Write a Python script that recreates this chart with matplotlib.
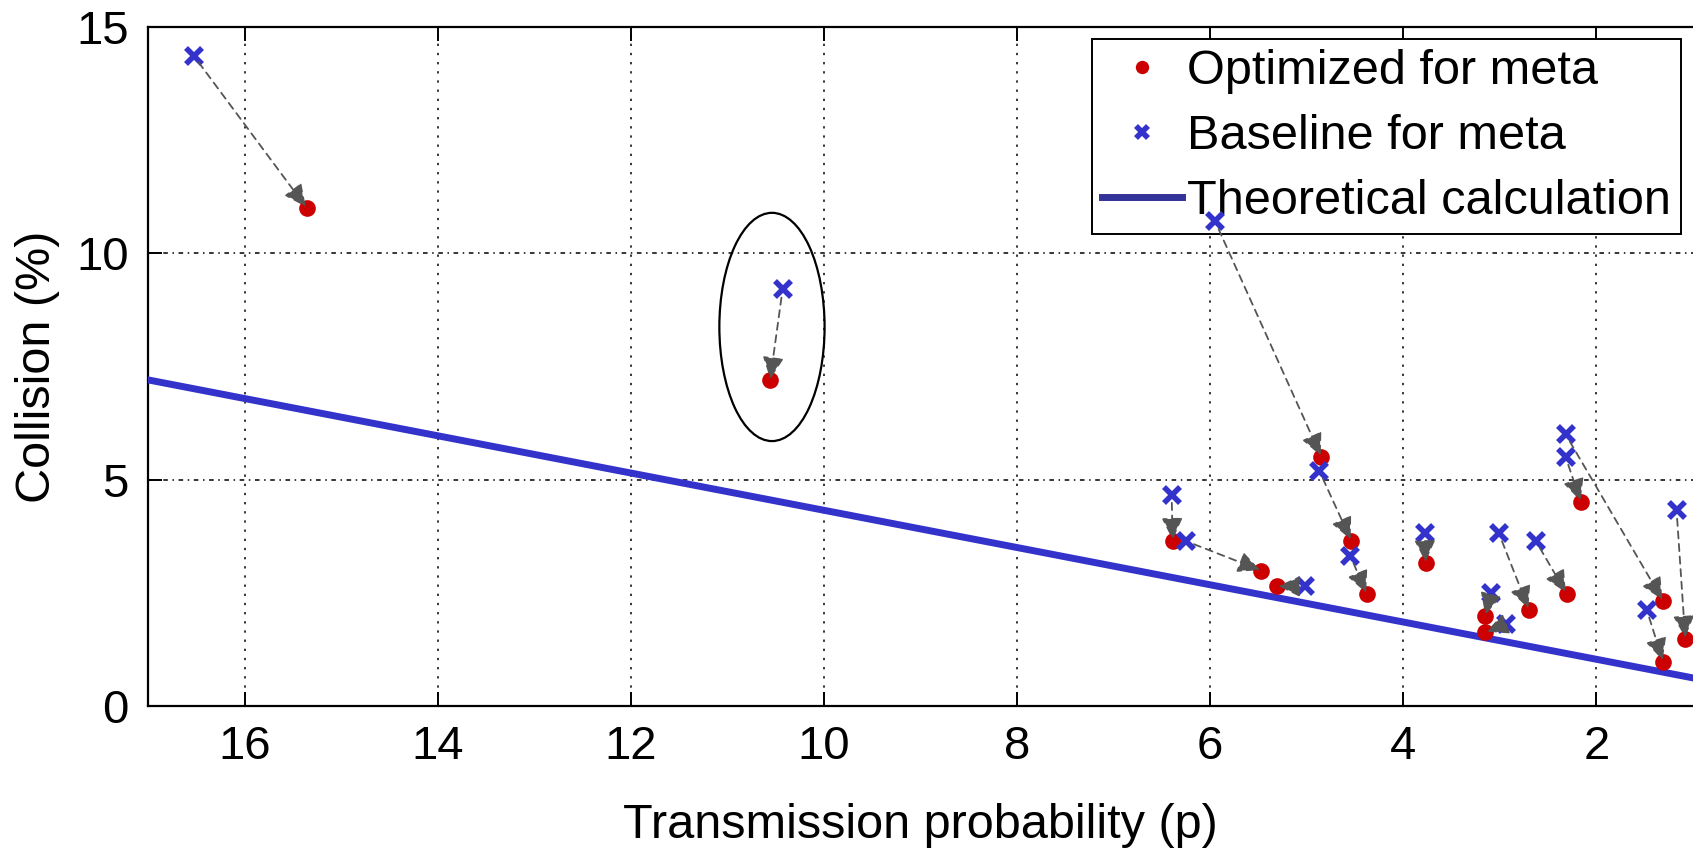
import matplotlib
matplotlib.use("Agg")
import matplotlib.pyplot as plt
from matplotlib.patches import Ellipse

plt.rcParams['font.family'] = ['Liberation Sans', 'DejaVu Sans']

# ---- data ----
base_x = [16.53, 10.43, 5.95, 6.40, 6.25, 5.02, 4.87, 4.55, 3.78, 3.09, 2.94, 3.01, 2.63, 2.32, 2.32, 1.48, 1.17]
base_y = [14.36, 9.20, 10.70, 4.67, 3.64, 2.64, 5.19, 3.32, 3.81, 2.50, 1.81, 3.81, 3.65, 5.50, 6.00, 2.13, 4.32]
opt_x = [15.36, 10.56, 4.85, 6.39, 5.47, 5.31, 4.54, 4.38, 3.77, 3.155, 3.155, 2.70, 2.31, 2.16, 1.31, 1.31, 1.08]
opt_y = [11.00, 7.19, 5.50, 3.64, 2.99, 2.65, 3.65, 2.47, 3.15, 1.98, 1.63, 2.13, 2.48, 4.50, 2.32, 0.98, 1.48]
theory_x = [17, 1]
theory_y = [7.20, 0.62]
ellipse_center = (10.54, 8.37)
ellipse_size = (1.09, 5.04)
x_ticks = [16, 14, 12, 10, 8, 6, 4, 2]
y_ticks = [0, 5, 10, 15]

fig = plt.figure(figsize=(16.93, 8.48), dpi=100)
ax = fig.add_axes([148.3 / 1693, (848 - 706) / 848, (1693 - 148.3) / 1693, (706 - 26.7) / 848])

ax.set_xlim(17, 1)
ax.set_ylim(0, 15)

# grid
ax.set_xticks(x_ticks)
ax.set_yticks(y_ticks)
ax.grid(True, color='black', linestyle=(0, (1.5, 4.5)), linewidth=1.1)
for gl in ax.get_ygridlines():
    gl.set_linestyle((0, (3, 3, 1, 3)))
ax.set_axisbelow(True)

# theoretical line
ax.plot(theory_x, theory_y, color='#3333CC', linewidth=5, label='Theoretical calculation', zorder=3)

# points
ax.plot(opt_x, opt_y, linestyle='none', marker='o', markersize=12, color='#CC0000',
        markeredgewidth=0, label='Optimized for meta', zorder=6)
ax.plot(base_x, base_y, linestyle='none', marker='x', markersize=11, color='#3333CC',
        markeredgewidth=4, label='Baseline for meta', zorder=6)

# arrows
for bx, by, ox, oy in zip(base_x, base_y, opt_x, opt_y):
    ax.annotate('', xy=(ox, oy), xytext=(bx, by),
                arrowprops=dict(arrowstyle='-|>,head_length=0.5,head_width=0.24',
                                color='#555555', linestyle=(0, (4, 3)), linewidth=1.3,
                                mutation_scale=27, shrinkA=6, shrinkB=1),
                zorder=7)

# ellipse
ax.add_patch(Ellipse(ellipse_center, ellipse_size[0], ellipse_size[1],
                     fill=False, edgecolor='black', linewidth=1.6, zorder=5))

# axes styling
ax.spines['right'].set_visible(False)
for s in ['left', 'top', 'bottom']:
    ax.spines[s].set_linewidth(1.6)
ax.tick_params(axis='both', direction='in', length=10, width=1.4, labelsize=34, top=True)
ax.tick_params(axis='x', pad=14)
ax.tick_params(axis='y', pad=14)

ax.set_xlabel('Transmission probability (p)', fontsize=35, labelpad=24)
ax.set_ylabel('Collision (%)', fontsize=35, labelpad=12)

handles, labels = ax.get_legend_handles_labels()
order = [1, 2, 0]
leg = ax.legend([handles[i] for i in order], [labels[i] for i in order],
                loc='upper right', fontsize=35, frameon=True, fancybox=False,
                edgecolor='black', framealpha=1, borderaxespad=0.25,
                handlelength=1.65, handletextpad=0.1, borderpad=0.2, labelspacing=0.42,
                markerscale=0.8)
leg.get_frame().set_linewidth(1.4)
leg.get_lines()[2].set_color('#333399')
leg.set_zorder(5)

fig.savefig('out.png', dpi=100)
